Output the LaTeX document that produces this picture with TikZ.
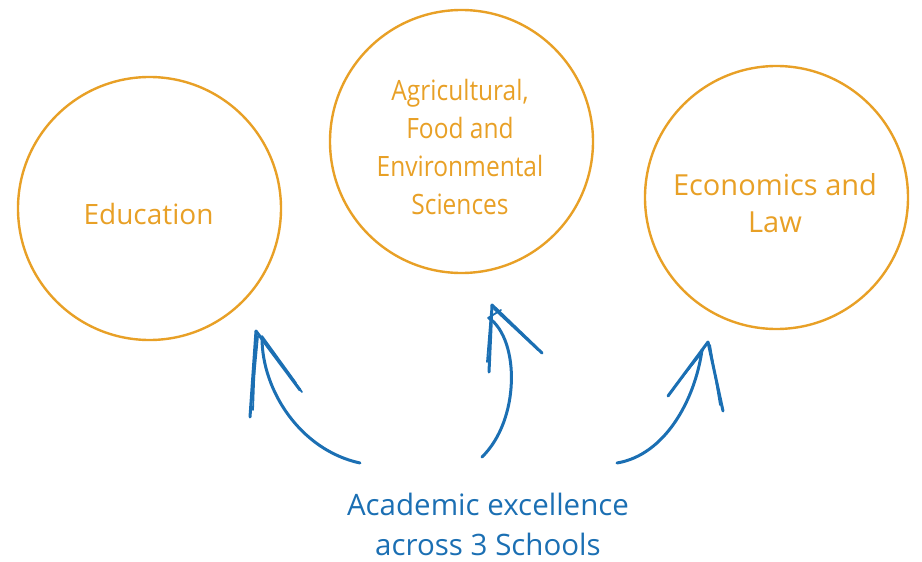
\documentclass[tikz,border=0pt]{standalone}
\usepackage{fontspec}
\setmainfont{Open Sans}
\definecolor{orng}{HTML}{E8A026}
\definecolor{blu}{HTML}{1B6FB3}
\begin{document}
\begin{tikzpicture}[x=1pt,y=-1pt,
  school/.style={circle,draw=orng,line width=2.4pt,minimum size=263pt,inner sep=0pt,
     text=orng,align=center},
  pen/.style={draw=blu,line width=3pt,line cap=round,line join=round},
  thin pen/.style={draw=blu,line width=1.8pt,line cap=round}]
\useasboundingbox (0,0) rectangle (922,562);
\node[school] (edu) at (149.5,208.5) {};
\node[text=orng,font=\fontsize{28}{38}\selectfont] (edut) at (148.5,214) {Education};
\node[school] (agr) at (461.5,141.5) {};
\node[text=orng,align=center,font=\fontsize{28}{38}\selectfont,xscale=0.875,transform shape] (agrt) at (460,147)
  {Agricultural,\\Food and\\Environmental\\Sciences};
\node[school] (eco) at (776.5,197.5) {};
\node[text=orng,align=center,font=\fontsize{29}{37}\selectfont] (ecot) at (775,203)
  {Economics and\\Law};
\node[text=blu,align=center,font=\fontsize{29.5}{40}\selectfont] (acad) at (488,524)
  {Academic excellence\\across 3 Schools};
% left arrow
\coordinate (t1) at (256,331);
\draw[pen] (360,463) .. controls (300,450) and (262,390) .. (262,338);
\draw[pen] (t1) -- (250,417);
\draw[thin pen] (t1) -- (253,410);
\draw[thin pen] (258,336) -- (252,400);
\draw[pen] (t1) -- (300,390);
\draw[thin pen] (262,336) -- (296,383);
\draw[thin pen] (258,334) -- (302,392);
% middle arrow
\coordinate (t2) at (492,305);
\draw[pen] (482,457) .. controls (520,420) and (520,340) .. (489,318);
\draw[pen] (t2) -- (489,372);
\draw[thin pen] (491,312) -- (487,362);
\draw[pen] (t2) -- (542,353);
\draw[thin pen] (494,309) -- (538,350);
\draw[thin pen] (488,318) -- (501,310);
% right arrow
\coordinate (t3) at (708,342);
\draw[pen] (617,463) .. controls (665,455) and (695,400) .. (702,350);
\draw[pen] (t3) -- (723,411);
\draw[thin pen] (710,345) -- (720,405);
\draw[pen] (t3) -- (668,396);
\draw[thin pen] (703,350) -- (673,389);
\draw[thin pen] (700,355) -- (676,385);
\end{tikzpicture}
\end{document}
